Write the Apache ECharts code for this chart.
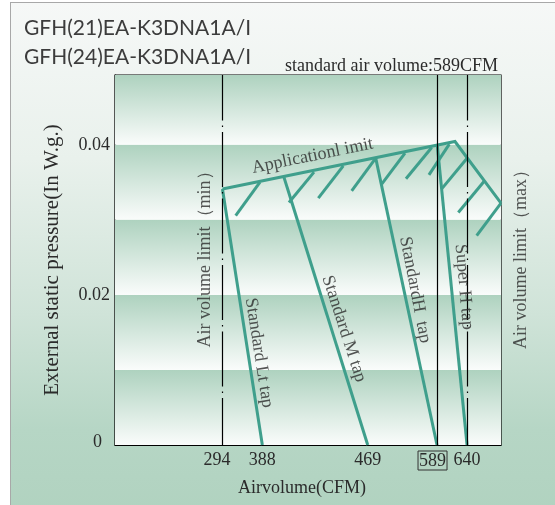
<!DOCTYPE html>
<html>
<head>
<meta charset="utf-8">
<script src="https://cdn.jsdelivr.net/npm/echarts@6/dist/echarts.min.js"></script>
<style>
html,body{margin:0;padding:0;background:#fff;}
#bg{position:absolute;left:10px;top:2px;width:560px;height:520px;border-left:1px solid #a8a8a8;border-top:1px solid #a8a8a8;
 background:linear-gradient(to bottom,#f6f8f7 0%,#e9f1ec 30%,#cfe3d8 60%,#b6d6c5 82%,#b0d2bf 100%);}
#chart{position:absolute;left:0;top:0;width:555px;height:505px;}
</style>
</head>
<body>
<div id="bg"></div>
<div id="chart"></div>
<script>
// ---- data (x in schematic position units, labelled with CFM values) ----
const xTickPos    = [294, 350.4, 499.5, 597.5, 640];
const xTickLabels = ['294', '388', '469', '589', '640'];
const yTickValues = [0, 0.02, 0.04];
const yTickLabels = ['0', '0.02', '0.04'];
const bandEdges   = [0, 0.01, 0.02, 0.03, 0.04, 0.0493];

const tapNames   = ['Standard Lt tap', 'Standard M tap', 'StandardH  tap', 'Super H tap'];
const tapTopX    = [294, 381.1, 510.8, 597.9];
const tapTopY    = [0.0341, 0.03564, 0.03823, 0.03991];
const tapBottomX = [350.4, 499.5, 597.5, 640];
const tapBottomY = [0, 0, 0, 0];

const limitX = [294, 622.9, 688];
const limitY = [0.0341, 0.04044, 0.03223];

const hatchTopX = [347.1, 423.5, 464.9, 510.8, 552.2, 590.0, 614.9, 640.3, 663.9, 688];
const hatchTopY = [0.03503, 0.03636, 0.03720, 0.03823, 0.03889, 0.03964, 0.04009, 0.03823, 0.03511, 0.03223];
const hatchEndX = [312.7, 388.1, 429.6, 476.8, 519.2, 553.6, 586.1, 604.1, 627.6, 653.6];
const hatchEndY = [0.03057, 0.03231, 0.03289, 0.03387, 0.03476, 0.03547, 0.03600, 0.03413, 0.03097, 0.02791];

const refLineX     = [294, 597.5, 640];
const refLineKinds = ['dashdot', 'solid', 'dashdot'];

const noteTexts = ['Applicationl imit', 'Standard Lt tap', 'Standard M tap', 'StandardH  tap', 'Super H tap', 'Air volume limit（min）', 'Air volume limit（max）'];
const noteX     = [421.4, 345.7, 465.9, 566.4, 635.7, 269.3, 716.3];
const noteY     = [0.0385, 0.01227, 0.01547, 0.02067, 0.02107, 0.02533, 0.02533];
const noteAngle = [11.6, -81, -72, -79, -85, 90, 90];

// ---- chart ----
const TEAL = '#3f9f8c';
const SERIF = '"Liberation Serif","Times New Roman",serif';
const FS = 18;
const chart = echarts.init(document.getElementById('chart'), null, {renderer: 'canvas'});

const bandGrad = () => new echarts.graphic.LinearGradient(0, 0, 0, 1, [
  {offset: 0, color: '#aed2bf'}, {offset: 1, color: '#fafcfb'}]);
const bands = [];
for (let i = 0; i < bandEdges.length - 1; i++) {
  bands.push([{yAxis: bandEdges[i + 1], itemStyle: {color: bandGrad()}}, {yAxis: bandEdges[i]}]);
}

const series = [];
series.push({
  type: 'line', data: [], z: -1, silent: true,
  markArea: {silent: true, data: bands, itemStyle: {opacity: 1}}
});
const lineSeries = (pts) => ({
  type: 'line', data: pts, showSymbol: false, symbol: 'none', silent: true, z: 3,
  lineStyle: {color: TEAL, width: 3, cap: 'butt', join: 'miter'}
});
for (let i = 0; i < tapNames.length; i++) {
  series.push(lineSeries([[tapTopX[i], tapTopY[i]], [tapBottomX[i], tapBottomY[i]]]));
}
series.push(lineSeries(limitX.map((x, i) => [x, limitY[i]])));
for (let i = 0; i < hatchTopX.length; i++) {
  series.push(lineSeries([[hatchTopX[i], hatchTopY[i]], [hatchEndX[i], hatchEndY[i]]]));
}
series.push({
  type: 'line', data: [], z: 2, silent: true,
  markLine: {
    silent: true, symbol: ['none', 'none'], label: {show: false},
    data: refLineX.map((x, i) => ({
      xAxis: x,
      lineStyle: refLineKinds[i] === 'solid'
        ? {color: '#000', width: 1.2, type: 'solid'}
        : {color: '#000', width: 1.2, type: [55, 5, 1.5, 5], dashOffset: 8}
    }))
  }
});
series.push({
  type: 'scatter', symbolSize: 0.1, clip: false, silent: true, z: 5,
  itemStyle: {color: 'rgba(0,0,0,0)'},
  data: noteTexts.map((t, i) => ({
    value: [noteX[i], noteY[i]],
    label: {show: true, formatter: t, rotate: noteAngle[i], position: 'inside',
      align: 'center', verticalAlign: 'middle',
      fontFamily: SERIF, fontSize: FS, color: '#2b2b2b'}
  }))
});

const option = {
  animation: false,
  backgroundColor: 'transparent',
  title: [
    {text: 'GFH(21)EA-K3DNA1A/I', left: 19, top: 13,
     textStyle: {fontFamily: 'Lato', fontWeight: 'normal', fontSize: 21, color: '#3c3c3c'}},
    {text: 'GFH(24)EA-K3DNA1A/I', left: 19, top: 42,
     textStyle: {fontFamily: 'Lato', fontWeight: 'normal', fontSize: 21, color: '#3c3c3c'}},
    {text: 'standard air volume:589CFM', right: 52, top: 52,
     textStyle: {fontFamily: SERIF, fontWeight: 'normal', fontSize: FS, color: '#2b2b2b'}}
  ],
  grid: {left: 115, right: 54, top: 75, bottom: 60, show: true,
         borderColor: '#000', borderWidth: 1.2, backgroundColor: 'transparent'},
  xAxis: {
    type: 'value', min: 142, max: 688,
    name: 'Airvolume(CFM)', nameLocation: 'middle', nameGap: 34,
    nameTextStyle: {fontFamily: SERIF, fontSize: FS, color: '#2b2b2b', padding: [0, 12, 0, 0]},
    axisLine: {show: true, lineStyle: {color: '#000', width: 1.2}},
    axisTick: {show: false}, splitLine: {show: false},
    axisLabel: {
      customValues: xTickPos, margin: 6,
      fontFamily: SERIF, fontSize: FS, color: '#2b2b2b',
      formatter: v => {
        const i = xTickPos.indexOf(v);
        const t = i >= 0 ? xTickLabels[i] : '';
        if (t === '589') return '{box|' + t + '}{sp|}';
        if (t === '294') return '{sh|' + t + '}';
        return t;
      },
      rich: {
        box: {fontFamily: SERIF, fontSize: FS, color: '#2b2b2b', borderColor: '#333', borderWidth: 1,
              padding: [1, 1, 0, 1]},
        sp: {width: 9},
        sh: {fontFamily: SERIF, fontSize: FS, color: '#2b2b2b', padding: [0, 11, 0, 0]}
      }
    }
  },
  yAxis: {
    type: 'value', min: 0, max: 0.0493, interval: 0.01,
    name: 'External static pressure(In W.g.)', nameLocation: 'middle', nameGap: 52,
    nameTextStyle: {fontFamily: SERIF, fontSize: 21, color: '#2b2b2b'},
    axisLine: {show: true, lineStyle: {color: '#000', width: 1.2}},
    axisTick: {show: false},
    splitLine: {show: true, lineStyle: {color: '#000', width: 1.2}},
    axisLabel: {
      customValues: yTickValues, margin: 5,
      fontFamily: SERIF, fontSize: FS, color: '#2b2b2b',
      formatter: v => {
        const i = yTickValues.indexOf(v);
        const t = i >= 0 ? yTickLabels[i] : '';
        return t === '0' ? '{z|0}' : t;
      },
      rich: {z: {fontFamily: SERIF, fontSize: FS, color: '#2b2b2b', padding: [0, 8, 6, 0]}}
    }
  },
  series: series
};
chart.setOption(option);
</script>
</body>
</html>
